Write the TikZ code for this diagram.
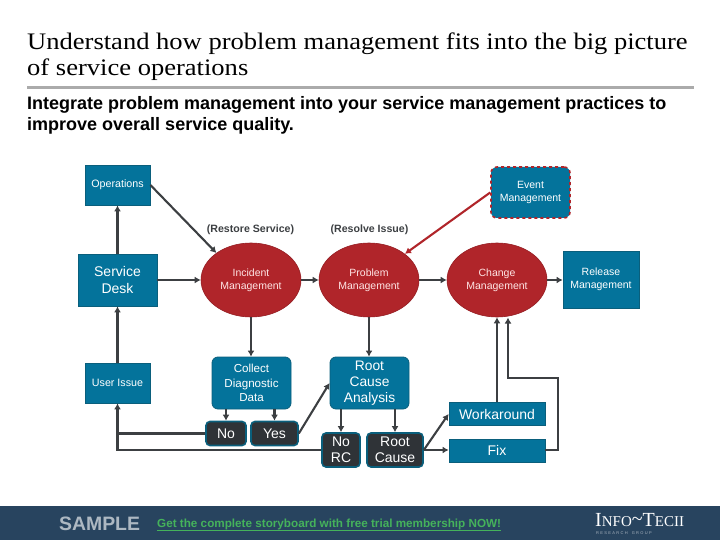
\documentclass[tikz,border=0pt]{standalone}
\usepackage{fontspec}
\setmainfont{Liberation Sans}
\newfontfamily\serifttl[FakeStretch=1.12]{Liberation Serif}
\newfontfamily\seriflogo{Liberation Serif}
\usetikzlibrary{shapes.geometric,arrows.meta,calc}
\definecolor{teal}{HTML}{04739B}
\definecolor{tealdk}{HTML}{0A5F7C}
\definecolor{redm}{HTML}{B0252A}
\definecolor{darkb}{HTML}{2F3337}
\definecolor{lnk}{HTML}{3C3F42}
\definecolor{foot}{HTML}{28445F}
\definecolor{linkg}{HTML}{45B25B}
\definecolor{rulegr}{HTML}{ABABAB}
\tikzset{
  bx/.style={draw=tealdk,line width=0.8pt,fill=teal,text=white,align=center,inner sep=0pt},
  rbx/.style={bx,rounded corners=6pt},
  dbx/.style={draw=tealdk,line width=1.6pt,fill=darkb,text=white,align=center,inner sep=0pt,rounded corners=4pt},
  oval/.style={ellipse,draw=redm!85!black,line width=0.6pt,fill=redm,text=white!90!red,align=center,inner sep=0pt,minimum width=100pt,minimum height=74pt,font=\fontsize{10.5}{13.3}\selectfont},
  conn/.style={draw=lnk,line width=2.1pt,-{Latex[length=6pt,width=7pt]}},
  note/.style={text=lnk,font=\bfseries\fontsize{10.6}{12}\selectfont,inner sep=0pt},
}
\newcommand{\boxat}[7]{\node[#1,minimum width=#4pt,minimum height=#5pt,font=\fontsize{#6}{#7}\selectfont] (#2) at (#3)}
\begin{document}
\begin{tikzpicture}[x=1pt,y=-1pt]
\useasboundingbox (0,0) rectangle (720,540);
\node[anchor=base west,inner sep=0pt,font=\serifttl\fontsize{23.7}{26}\selectfont] (t1) at (27,50) {Understand how problem management fits into the big picture};
\node[anchor=base west,inner sep=0pt,font=\serifttl\fontsize{23.7}{26}\selectfont] (t2) at (27,76) {of service operations};
\fill[rulegr] (27,86.5) rectangle (694,89.5);
\node[anchor=base west,inner sep=0pt,font=\bfseries\fontsize{18}{20}\selectfont] (b1) at (27,109.5) {Integrate problem management into your service management practices to};
\node[anchor=base west,inner sep=0pt,font=\bfseries\fontsize{18}{20}\selectfont] (b2) at (27,130.5) {improve overall service quality.};
%
\boxat{bx}{ops}{117.5,185}{65}{40}{10.7}{12} {Operations};
\boxat{bx}{desk}{117.5,280}{79}{52}{14}{16.5} {Service\\Desk};
\boxat{bx}{user}{117.5,383}{65}{40}{10.7}{12} {User Issue};
\node[oval] (inc) at (251,280) {Incident\\Management};
\node[oval] (prob) at (369,280) {Problem\\Management};
\node[oval] (chg) at (497,280) {Change\\Management};
\boxat{bx}{rel}{601,279.5}{76}{57}{10.5}{13.5} {Release\\Management};
\boxat{rbx,draw=redm,line width=1.6pt,dashed}{evt}{530.5,192.5}{79}{51}{10.5}{13} {Event\\Management};
\boxat{rbx}{coll}{251.5,383}{79}{52}{11.6}{14.5} {Collect\\Diagnostic\\Data};
\boxat{rbx}{rca}{369.5,383}{79}{52}{13.8}{16} {Root\\Cause\\Analysis};
\boxat{dbx}{no}{226,433.5}{40}{24}{14}{16} {No};
\boxat{dbx}{yes}{274.5,433.5}{47}{24}{14}{16} {Yes};
\boxat{dbx}{norc}{341,450}{38}{34}{14}{16} {No\\RC};
\boxat{dbx}{rc}{395,450}{56}{34}{14}{16} {Root\\Cause};
\boxat{bx}{wa}{497,414}{96}{23}{14}{16} {Workaround};
\boxat{bx}{fix}{497,450.5}{96}{23}{14}{16} {Fix};
\node[note] (lr) at (250.5,230) {(Restore Service)};
\node[note] (li) at (369.5,230) {(Resolve Issue)};
%
\draw[conn] (desk.north) -- (ops.south);
\draw[conn] (user.north) -- (desk.south);
\draw[conn] (desk.east |- inc.west) -- (inc.west);
\draw[conn] (inc.east) -- (prob.west);
\draw[conn] (prob.east) -- (chg.west);
\draw[conn] (chg.east) -- (rel.west |- chg.east);
\draw[conn] (ops.east) -- (inc.142);
\draw[conn,draw=redm] (evt.west) -- (prob.36);
\draw[conn] (inc.south) -- (coll.north -| inc.south);
\draw[conn] (prob.south) -- (rca.north -| prob.south);
\draw[conn] ($(coll.south -| no.north)$) -- (no.north);
\draw[conn] ($(coll.south -| yes.north)$) -- (yes.north);
\draw[conn] (yes.east) -- (rca.west);
\draw[conn] ($(rca.south -| norc.north)$) -- (norc.north);
\draw[conn] ($(rca.south -| rc.north)$) -- (rc.north);
\draw[conn] (rc.east) -- (wa.west);
\draw[conn] (rc.east) -- (fix.west |- rc.east);
\draw[conn] (wa.north) -- (chg.south);
\coordinate (fa) at (558,450);
\coordinate (fb) at (558,378);
\coordinate (fc) at (508,378);
\coordinate (fd) at (508,317.5);
\draw[conn] (fix.east |- fa) -- (fa) -- (fb) -- (fc) -- (fd);
\draw[draw=lnk,line width=2.1pt] (no.west) -- (user.south |- no.west);
\draw[conn] (norc.west) -- (user.south |- norc.west) -- (user.south);
%
\fill[foot] (0,506) rectangle (720,540);
\node[anchor=base west,inner sep=0pt,text=white!62!foot,font=\bfseries\fontsize{19.4}{20}\selectfont] (smp) at (59,530.5) {SAMPLE};
\node[anchor=base west,inner sep=0pt,text=linkg,font=\bfseries\fontsize{11.7}{12}\selectfont] (lnkt) at (157,527) {Get the complete storyboard with free trial membership NOW!};
\fill[linkg] (157,529.5) rectangle (501,530.3);
\node[anchor=base west,inner sep=0pt,text=white,font=\seriflogo\fontsize{20}{20}\selectfont] (logo) at (595,526.5) {I\fontsize{15}{16}\selectfont NFO\fontsize{20}{20}\selectfont\raisebox{1pt}{\textasciitilde}T\fontsize{15}{16}\selectfont ECII};
\node[anchor=base west,inner sep=0pt,text=white!60!foot,font=\fontsize{4}{4}\selectfont] (logo2) at (596,534) {R\,\,E\,\,S\,\,E\,\,A\,\,R\,\,C\,\,H\quad G\,\,R\,\,O\,\,U\,\,P};
\end{tikzpicture}
\end{document}
